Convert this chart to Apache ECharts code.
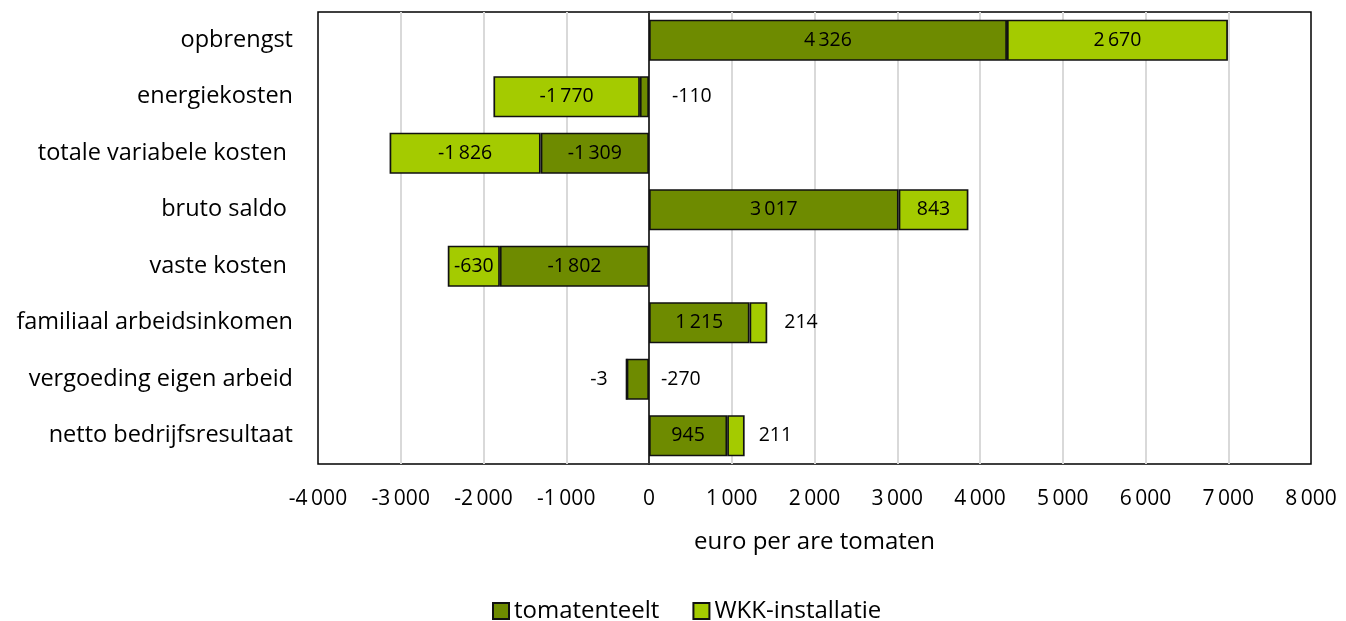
<!DOCTYPE html>
<html>
<head>
<meta charset="utf-8">
<script src="https://cdn.jsdelivr.net/npm/echarts@6/dist/echarts.min.js"></script>
<style>html,body{margin:0;padding:0;background:#fff}#c{width:1346px;height:621px}</style>
</head>
<body>
<div id="c"></div>
<script>
var categories = ['opbrengst', 'energiekosten', 'totale variabele kosten ', 'bruto saldo ', 'vaste kosten ', 'familiaal arbeidsinkomen', 'vergoeding eigen arbeid', 'netto bedrijfsresultaat'];
var tomatenteelt = [4326, -110, -1309, 3017, -1802, 1215, -270, 945];
var wkk = [2670, -1770, -1826, 843, -630, 214, -3, 211];
var seriesNames = ['tomatenteelt', 'WKK-installatie'];
var xMin = -4000, xMax = 8000, xInterval = 1000;

var FONT = 'Open Sans';
function fmt(v) {
  var s = Math.abs(v).toString();
  var out = s.replace(/\B(?=(\d{3})+(?!\d))/g, '\u2009');
  return (v < 0 ? '-' : '') + out;
}
// per-item outside label placement for small segments
var outsideT = {1: ['right', 23], 6: ['right', 12]};
var outsideW = {5: ['right', 17], 6: ['left', 18], 7: ['right', 14]};
function build(arr, outside) {
  return arr.map(function (v, i) {
    var d = {value: v};
    if (outside[i]) {
      d.label = {position: outside[i][0], distance: outside[i][1]};
    }
    return d;
  });
}
var chart = echarts.init(document.getElementById('c'));
var labelStyle = {
  show: true, position: 'inside', color: '#000', fontFamily: FONT, fontSize: 19.5,
  formatter: function (p) { return fmt(p.value); }
};
chart.setOption({
  animation: false,
  grid: {left: 318, right: 35, top: 12, bottom: 157, show: true, borderColor: '#000', borderWidth: 1.5, containLabel: false},
  legend: {
    left: 492, itemWidth: 16, itemHeight: 16, itemGap: 33, icon: 'rect',
    textStyle: {fontFamily: FONT, fontSize: 24, color: '#000', lineHeight: 24},
    data: seriesNames,
    top: 599, padding: 0
  },
  xAxis: {
    type: 'value', min: xMin, max: xMax, interval: xInterval,
    name: 'euro per are tomaten', nameLocation: 'middle', nameGap: 66,
    nameTextStyle: {fontFamily: FONT, fontSize: 24, color: '#000'},
    axisLine: {show: false}, axisTick: {show: false},
    axisLabel: {fontFamily: FONT, fontSize: 21, color: '#000', margin: 25, formatter: function (v) { return fmt(v); }},
    splitLine: {show: true, showMinLine: false, showMaxLine: false, lineStyle: {color: '#d9d9d9', width: 2}}
  },
  yAxis: {
    type: 'category', data: categories, inverse: true,
    axisLine: {show: true, onZero: true, lineStyle: {color: '#000', width: 1.5}},
    axisTick: {show: false},
    axisLabel: {fontFamily: FONT, fontSize: 23.5, color: '#000', margin: 25},
    splitLine: {show: false}
  },
  series: [
    {
      name: seriesNames[0], type: 'bar', stack: 'a', data: build(tomatenteelt, outsideT),
      barCategoryGap: '27%',
      itemStyle: {color: '#6e8b00', borderColor: '#111', borderWidth: 1.7},
      label: labelStyle
    },
    {
      name: seriesNames[1], type: 'bar', stack: 'a', data: build(wkk, outsideW),
      barCategoryGap: '27%',
      itemStyle: {color: '#a4cb00', borderColor: '#111', borderWidth: 1.7},
      label: labelStyle
    }
  ]
});
</script>
</body>
</html>
